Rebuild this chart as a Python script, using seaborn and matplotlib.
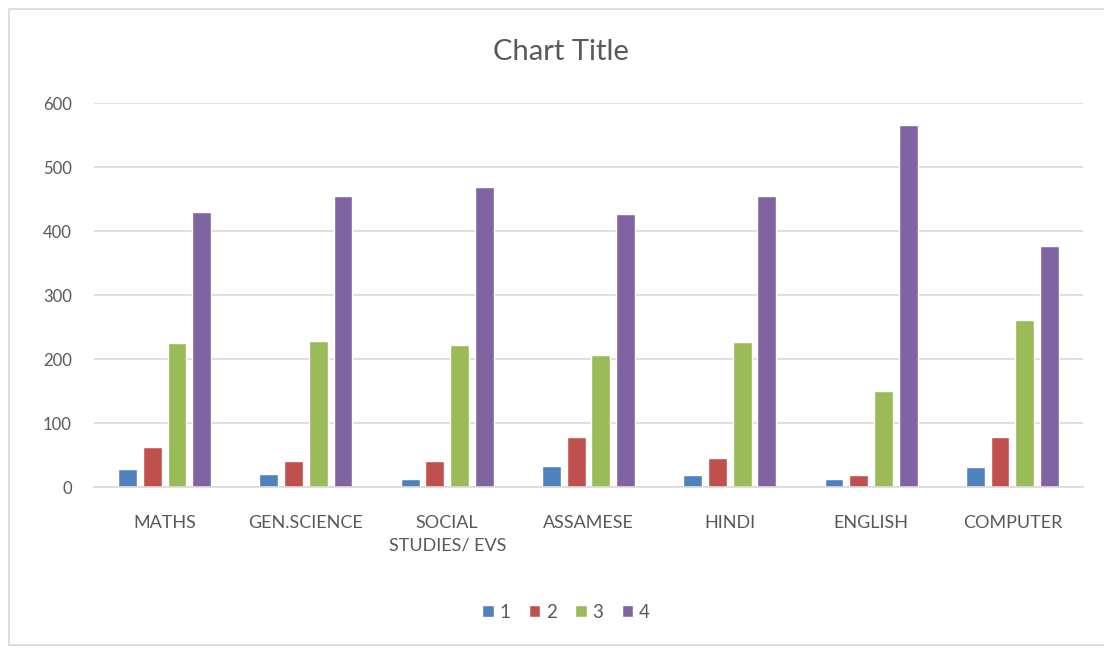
import matplotlib
matplotlib.use("Agg")
import matplotlib.pyplot as plt
import seaborn as sns
import pandas as pd
from matplotlib.patches import Rectangle

categories = ["MATHS", "GEN.SCIENCE", "SOCIAL\nSTUDIES/ EVS", "ASSAMESE", "HINDI", "ENGLISH", "COMPUTER"]
series_names = ["1", "2", "3", "4"]
s1 = [28, 21, 12, 33, 18, 12, 31]
s2 = [63, 40, 40, 78, 46, 18, 78]
s3 = [225, 228, 222, 207, 226, 150, 261]
s4 = [430, 454, 469, 427, 454, 565, 376]
yticks = [0, 100, 200, 300, 400, 500, 600]
colors = ["#4F81BD", "#C0504D", "#9BBB59", "#8064A2"]

rows = []
for name, vals in zip(series_names, [s1, s2, s3, s4]):
    for c, v in zip(categories, vals):
        rows.append({"category": c, "series": name, "value": v})
df = pd.DataFrame(rows)

sns.set_theme(style="white")
plt.rcParams["font.family"] = ["Lato", "DejaVu Sans"]

W, H = 1104, 648
fig = plt.figure(figsize=(W / 100, H / 100), dpi=100)
fig.patch.set_facecolor("white")
ax = fig.add_axes([94 / W, (H - 487) / H, (1083 - 94) / W, (487 - 103) / H])

sns.barplot(data=df, x="category", y="value", hue="series", order=categories,
            hue_order=series_names, palette=colors, width=0.7, gap=0.24,
            saturation=1, ax=ax, legend=True)

ax.set_ylim(0, 600)
ax.set_yticks(yticks)
ax.set_yticklabels([str(t) for t in yticks])
ax.set_xlim(-0.5, len(categories) - 0.5)
ax.grid(axis="y", color="#d9d9d9", linewidth=1.2)
ax.set_axisbelow(True)
for s in ["top", "right", "left"]:
    ax.spines[s].set_visible(False)
ax.spines["bottom"].set_color("#d9d9d9")
ax.spines["bottom"].set_linewidth(1.2)
ax.set_xlabel("")
ax.set_ylabel("")
ax.tick_params(axis="both", length=0, labelcolor="#595959")
ax.tick_params(axis="x", pad=20, labelsize=13)
ax.tick_params(axis="y", pad=16, labelsize=12)
for lbl in ax.get_xticklabels():
    lbl.set_linespacing(1.55)

handles, labels = ax.get_legend_handles_labels()
ax.get_legend().remove()
fig.legend(handles, labels, loc="center", bbox_to_anchor=(566 / W, 1 - 612 / H),
           ncol=4, frameon=False, handlelength=0.6, handleheight=0.6,
           handletextpad=0.3, columnspacing=1.0, fontsize=13.5, labelcolor="#595959")

fig.text(561 / W, 1 - 52 / H, "Chart Title", ha="center", va="center",
         fontsize=21, color="#595959")

fig.patches.append(Rectangle((9 / W, 3 / H), (W - 8) / W, (H - 12) / H,
                             transform=fig.transFigure, fill=False,
                             edgecolor="#d9d9d9", linewidth=1.2))

fig.savefig("out.png", dpi=100)
